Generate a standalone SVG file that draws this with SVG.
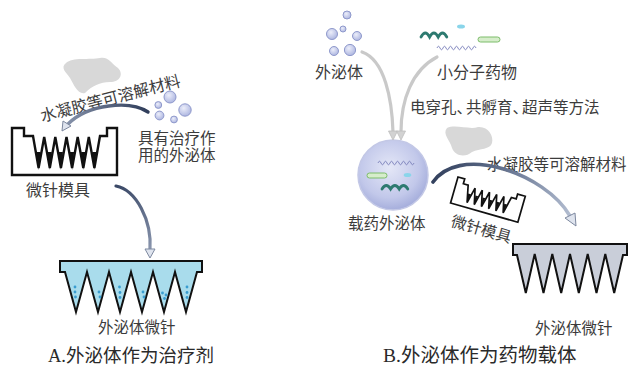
<svg xmlns="http://www.w3.org/2000/svg" width="631" height="368" viewBox="0 0 631 368">
  <defs>
    <radialGradient id="exoGrad" cx="40%" cy="35%" r="70%">
      <stop offset="0" stop-color="#eceefa"/>
      <stop offset="1" stop-color="#aab3df"/>
    </radialGradient>
    <radialGradient id="cellGrad" cx="45%" cy="40%" r="65%">
      <stop offset="0" stop-color="#e4e7f7"/>
      <stop offset="0.65" stop-color="#c2c8ea"/>
      <stop offset="1" stop-color="#9ea7d8"/>
    </radialGradient>
    <linearGradient id="darkArrowA" x1="148" y1="110" x2="66" y2="126" gradientUnits="userSpaceOnUse">
      <stop offset="0" stop-color="#2f3d5a"/>
      <stop offset="1" stop-color="#8793ab"/>
    </linearGradient>
    <linearGradient id="darkArrowA2" x1="116" y1="186" x2="150" y2="255" gradientUnits="userSpaceOnUse">
      <stop offset="0" stop-color="#3a4866"/>
      <stop offset="1" stop-color="#8e9ab2"/>
    </linearGradient>
    <linearGradient id="darkArrowB" x1="433" y1="180" x2="575" y2="222" gradientUnits="userSpaceOnUse">
      <stop offset="0" stop-color="#33415e"/>
      <stop offset="0.5" stop-color="#6c7a96"/>
      <stop offset="1" stop-color="#b9c3d6"/>
    </linearGradient>
    <style>
      .lbl { font-family: "Noto Sans CJK SC", sans-serif; font-size: 15.5px; fill: #3c3c3c; }
      .cap { font-family: "Liberation Serif", "Noto Sans CJK SC", serif; fill: #2a2a2a; }
      .exo { fill: url(#exoGrad); stroke: #8f99cc; stroke-width: 1; }
      .mold { fill: #ffffff; stroke: #111111; stroke-linejoin: miter; }
      .blob { fill: #d8d8d8; }
      .grey-arrow { fill: none; stroke: #c9c9c9; stroke-width: 3.2; stroke-linecap: round; }
      .head-grey { fill: #d2d2d2; stroke: #bdbdbd; stroke-width: 0.8; }
      .head-dark { fill: #dfe4ee; stroke: #7d889f; stroke-width: 1; }
      .coil { fill: none; stroke: #7b80ba; stroke-width: 0.9; }
      .wave { fill: none; stroke: #2d7a70; stroke-width: 2.8; stroke-linecap: round; }
      .pill { fill: #d6edcb; stroke: #7dbd6b; stroke-width: 1; }
      .drop { fill: #8ad5ea; }
      .dot { fill: #3a9dd0; }
    </style>
  </defs>

  <rect width="631" height="368" fill="#ffffff"/>

  <!-- ===== Panel A: exosomes as therapeutic agent ===== -->
  <g id="a-hydrogel">
    <path class="blob" d="M66,63 C72,57 90,60 100,58 C108,56 112,64 118,68 C124,74 120,82 110,82 C100,82 92,86 85,93 C78,95 74,85 70,78 C66,72 60,68 66,63 Z"/>
    <text class="lbl" transform="translate(42,122) rotate(-14.5)" style="font-size:16px">水凝胶等可溶解材料</text>
  </g>

  <g id="a-exosomes">
    <circle class="exo" cx="170" cy="97" r="6"/>
    <circle class="exo" cx="158.3" cy="105" r="3.4"/>
    <circle class="exo" cx="185" cy="110" r="6.2"/>
    <circle class="exo" cx="159.5" cy="115.5" r="4.4"/>
    <circle class="exo" cx="174" cy="119.5" r="3.4"/>
    <text class="lbl"><tspan x="138" y="144">具有治疗作</tspan><tspan x="138" y="161">用的外泌体</tspan></text>
  </g>

  <g id="a-mold">
    <path class="mold" stroke-width="2.4" d="M12,128 H24 V136 H33 L38.6,168 L44.2,137 L49.8,168 L55.3,137 L60.9,168 L66.5,137 L72.1,168 L77.7,137 L83.3,168 L88.8,137 L94.4,168 L100,136 H107 V128 H117 V175 H12 Z"/>
    <g fill="#111111">
      <polygon points="36.4,152 40.6,152 38.6,170"/>
      <polygon points="47.6,152 51.8,152 49.8,170"/>
      <polygon points="58.7,152 62.9,152 60.9,170"/>
      <polygon points="69.9,152 74.1,152 72.1,170"/>
      <polygon points="81.1,152 85.3,152 83.3,170"/>
      <polygon points="92.2,152 96.4,152 94.4,170"/>
    </g>
    <text class="lbl" x="26" y="196" style="font-size:16px">微针模具</text>
  </g>

  <g id="a-microneedle">
    <path fill="#a9dcec" stroke="#111111" stroke-width="2" stroke-linejoin="miter" d="M60,261 H202 V272 H197 L186,312 L175,272 L164,312 L153,272 L142,312 L131,272 L120,312 L109,272 L98,312 L87,272 L76,312 L65,272 H60 Z"/>
    <g>
      <circle class="dot" cx="75" cy="287" r="1.4"/>
      <circle class="dot" cx="75" cy="292" r="1.4"/>
      <circle class="dot" cx="75.5" cy="297" r="1.4"/>
      <circle class="dot" cx="99" cy="292" r="1.4"/>
      <circle class="dot" cx="100" cy="297" r="1.4"/>
      <circle class="dot" cx="119.5" cy="287" r="1.4"/>
      <circle class="dot" cx="120" cy="292.5" r="1.4"/>
      <circle class="dot" cx="120" cy="297.5" r="1.4"/>
      <circle class="dot" cx="143" cy="292" r="1.4"/>
      <circle class="dot" cx="144" cy="297" r="1.4"/>
      <circle class="dot" cx="162.5" cy="293" r="1.4"/>
      <circle class="dot" cx="166" cy="295" r="1.4"/>
      <circle class="dot" cx="164.5" cy="298.5" r="1.4"/>
      <circle class="dot" cx="187" cy="287" r="1.4"/>
      <circle class="dot" cx="187" cy="292.5" r="1.4"/>
      <circle class="dot" cx="187" cy="297.5" r="1.4"/>
    </g>
    <text class="lbl" x="98" y="333">外泌体微针</text>
  </g>

  <text class="cap" x="48" y="362" style="font-size:18.5px">A.外泌体作为治疗剂</text>

  <!-- ===== Panel B: exosomes as drug carriers ===== -->
  <g id="b-exosomes">
    <circle class="exo" cx="347" cy="15" r="4"/>
    <circle class="exo" cx="332" cy="34" r="5.5"/>
    <circle class="exo" cx="343" cy="29" r="3"/>
    <circle class="exo" cx="357" cy="36" r="4.5"/>
    <circle class="exo" cx="334" cy="51" r="4.5"/>
    <circle class="exo" cx="350" cy="50" r="5.6"/>
    <text class="lbl" x="315" y="78" style="font-size:16px">外泌体</text>
  </g>

  <g id="b-small-molecules">
    <path class="wave" d="M421,37 q4.3,-8 8.6,0 q4.3,-8 8.6,0 q4.3,-8 8.6,0"/>
    <ellipse class="drop" cx="461" cy="26.5" rx="4" ry="2"/>
    <rect class="pill" x="478" y="37" width="22" height="5" rx="2.5"/>
    <path class="coil" d="M437,48 q1.5,-3.5 3,0 t3,0 t3,0 t3,0 t3,0 t3,0 t3,0 t3,0 t3,0 t3,0 t3,0 t3,0 t3,0"/>
    <text class="lbl" x="437" y="78" style="font-size:16px">小分子药物</text>
  </g>

  <g id="b-method">
    <text class="lbl" x="410" y="113">电穿孔、<tspan dx="-6">共孵育、</tspan><tspan dx="-6">超声等方法</tspan></text>
  </g>

  <g id="b-hydrogel">
    <path class="blob" d="M447,128 C455,124 470,130 478,127 C488,126 494,136 492,143 C490,150 480,148 472,152 C465,158 455,156 452,148 C450,140 442,134 447,128 Z"/>
    <text class="lbl" x="487" y="170">水凝胶等可溶解材料</text>
  </g>

  <g id="b-loaded-exosome">
    <circle cx="393" cy="175" r="35" fill="url(#cellGrad)" stroke="#c3c8e6" stroke-width="1.5"/>
    <path class="coil" d="M378,163 q1.5,-3.5 3,0 t3,0 t3,0 t3,0 t3,0 t3,0 t3,0 t3,0 t3,0 t3,0 t3,0 t3,0"/>
    <rect class="pill" x="367" y="173" width="20" height="5" rx="2.5"/>
    <ellipse class="drop" cx="407.5" cy="175" rx="3.8" ry="2"/>
    <path class="wave" d="M382,189 q4.3,-7 8.6,0 q4.3,-7 8.6,0 q4.3,-7 8.6,0"/>
    <text class="lbl" x="348" y="229">载药外泌体</text>
  </g>

  <g id="b-mold">
    <g transform="translate(458,177) rotate(16)">
      <path class="mold" stroke-width="1.7" d="M0,0 H7 V5 H12 L15.75,22 L19.5,6 L23.25,22 L27,6 L30.75,22 L34.5,6 L38.25,22 L42,6 L45.75,22 L49.5,6 L53.25,22 L57,5 H62 V0 H70 V27 H0 Z"/>
      <g fill="#111111">
        <polygon points="14.3,13 17.2,13 15.75,23"/>
        <polygon points="21.8,13 24.7,13 23.25,23"/>
        <polygon points="29.3,13 32.2,13 30.75,23"/>
        <polygon points="36.8,13 39.7,13 38.25,23"/>
        <polygon points="44.3,13 47.2,13 45.75,23"/>
        <polygon points="51.8,13 54.7,13 53.25,23"/>
      </g>
    </g>
    <text class="lbl" transform="translate(450,226) rotate(16)">微针模具</text>
  </g>

  <g id="b-microneedle">
    <path fill="#c9ced9" stroke="#111111" stroke-width="2" stroke-linejoin="miter" d="M513,244 H627 V255 H623 L614.2,293 L605.3,254 L596.5,293 L587.7,254 L578.8,293 L570,254 L561.2,293 L552.3,254 L543.5,293 L534.7,254 L525.8,293 L517,255 H513 Z"/>
    <text class="lbl" x="535" y="334">外泌体微针</text>
  </g>

  <text class="cap" x="383" y="362" style="font-size:19.5px">B.外泌体作为药物载体</text>

  <!-- ===== Connectors ===== -->
  <g id="connectors">
    <!-- A: hydrogel + exosomes into mold -->
    <path d="M148,112 C130,100 88,104 68,124" fill="none" stroke="url(#darkArrowA)" stroke-width="3.4" stroke-linecap="round"/>
    <polygon class="head-dark" points="62,131 63,121 71,126"/>
    <!-- A: mold to microneedle -->
    <path d="M116,186 C136,190 152,220 150,250" fill="none" stroke="url(#darkArrowA2)" stroke-width="3.2" stroke-linecap="round"/>
    <polygon class="head-dark" points="150,258 145,249 155,249"/>
    <!-- B: exosomes / small molecules to loaded exosome -->
    <path class="grey-arrow" d="M362,52 C385,60 392,100 393,132"/>
    <polygon class="head-grey" points="393,140 388.5,131 397.5,131"/>
    <path class="grey-arrow" d="M437,57 C412,70 401,100 401,132"/>
    <polygon class="head-grey" points="401,140 396.5,131 405.5,131"/>
    <!-- B: loaded exosome + hydrogel to microneedle -->
    <path d="M433,182 C445,165 470,160 500,168 C530,176 558,195 570,216" fill="none" stroke="url(#darkArrowB)" stroke-width="3.6" stroke-linecap="round"/>
    <polygon class="head-dark" points="576,226 565,218 575,213"/>
  </g>
</svg>
